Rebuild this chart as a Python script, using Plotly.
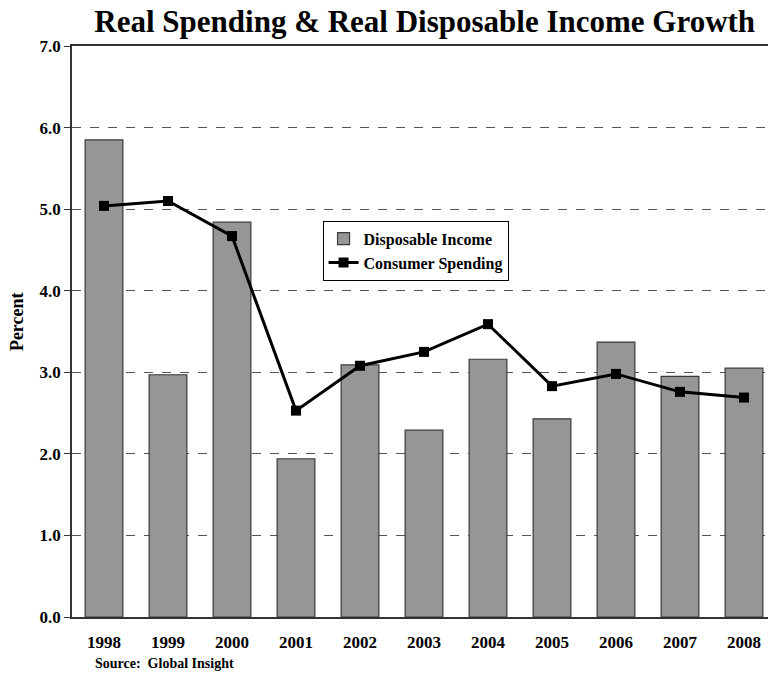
import plotly.graph_objects as go

years = ["1998", "1999", "2000", "2001", "2002", "2003", "2004", "2005", "2006", "2007", "2008"]
disposable_income = [5.85, 2.97, 4.84, 1.94, 3.09, 2.29, 3.16, 2.43, 3.37, 2.95, 3.05]
consumer_spending = [5.04, 5.10, 4.67, 2.53, 3.08, 3.25, 3.59, 2.83, 2.98, 2.76, 2.69]
y_ticks = [0, 1, 2, 3, 4, 5, 6, 7]
y_tick_labels = ["0.0", "1.0", "2.0", "3.0", "4.0", "5.0", "6.0", "7.0"]

FONT = "Liberation Serif, Times New Roman, serif"

fig = go.Figure()
fig.add_trace(go.Bar(
    x=years, y=disposable_income, name="<b>Disposable Income</b>",
    marker=dict(color="#969696", line=dict(color="#3a3a3a", width=1.2)),
))
fig.add_trace(go.Scatter(
    x=years, y=consumer_spending, name="<b>Consumer Spending</b>",
    mode="lines+markers",
    line=dict(color="black", width=3),
    marker=dict(symbol="square", size=10, color="black"),
))

fig.update_layout(
    width=768, height=673,
    margin=dict(l=72, r=0, t=46, b=56),
    paper_bgcolor="white", plot_bgcolor="white",
    bargap=0.41,
    font=dict(family=FONT, color="black"),
    title=dict(
        text="<b>Real Spending & Real Disposable Income Growth</b>",
        font=dict(family=FONT, size=31, color="black"),
        x=0.553, xanchor="center", y=0.968, yanchor="middle",
    ),
    legend=dict(
        x=0.360, y=0.694, xanchor="left", yanchor="top",
        bgcolor="white", bordercolor="black", borderwidth=1,
        font=dict(family=FONT, size=16, color="black"),
        tracegroupgap=0, itemwidth=30,
    ),
    showlegend=True,
)

fig.update_xaxes(
    type="category",
    range=[-0.5, 10.375],
    showline=True, linecolor="#333333", linewidth=1.5, mirror=True,
    showgrid=False, ticks="",
    tickfont=dict(family=FONT, size=17, color="black"),
    tickprefix="<b>", ticksuffix="</b>",
    ticklabelstandoff=9,
)
fig.update_yaxes(
    range=[0, 7],
    tickvals=y_ticks, ticktext=["<b>%s</b>" % t for t in y_tick_labels],
    tickfont=dict(family=FONT, size=17, color="black"),
    showline=True, linecolor="#333333", linewidth=1.5,
    ticks="outside", ticklen=6, tickcolor="#333333",
    showgrid=True, gridcolor="#555555", gridwidth=1, griddash="dash",
    zeroline=False,
)

fig.add_annotation(
    text="<b>Percent</b>", textangle=-90,
    xref="paper", yref="paper", x=-0.08, y=0.517,
    xanchor="center", yanchor="middle", showarrow=False,
    font=dict(family=FONT, size=18, color="black"),
)
fig.add_annotation(
    text="<b>Source:  Global Insight</b>",
    xref="paper", yref="paper", x=0.030, y=-0.082,
    xanchor="left", yanchor="middle", showarrow=False,
    font=dict(family=FONT, size=14, color="black"),
)

fig.write_html("out.html")
